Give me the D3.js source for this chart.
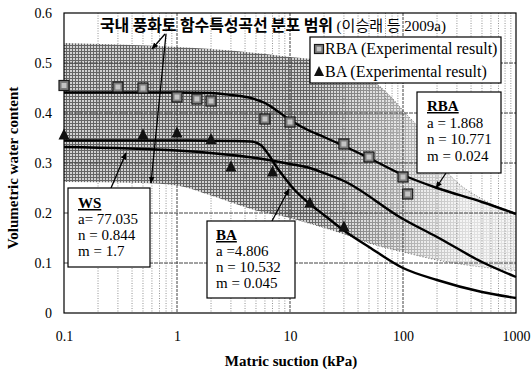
<!DOCTYPE html>
<html><head><meta charset="utf-8">
<script src="https://cdn.jsdelivr.net/npm/d3@7"></script>
<style>
html,body{margin:0;padding:0;background:#fff;}
svg{display:block;}
</style></head>
<body>
<svg id="chart" width="531" height="372"></svg>
<script>
// ---- data ----
const xTicks = [0.1, 1, 10, 100, 1000];
const xTickLabels = ["0.1", "1", "10", "100", "1000"];
const yTicks = [0, 0.1, 0.2, 0.3, 0.4, 0.5, 0.6];
const yTickLabels = ["0", "0.1", "0.2", "0.3", "0.4", "0.5", "0.6"];

const rbaPtsX = [0.1, 0.3, 0.5, 1, 1.5, 2, 6, 10, 30, 50, 100, 110];
const rbaPtsY = [0.455, 0.452, 0.45, 0.432, 0.428, 0.424, 0.388, 0.382, 0.338, 0.312, 0.272, 0.238];
const baPtsX = [0.1, 0.5, 1, 2, 3, 7, 15, 30];
const baPtsY = [0.356, 0.356, 0.36, 0.347, 0.292, 0.282, 0.22, 0.172];

const rbaCurveX = [0.1, 1, 2, 3, 4.5, 6, 7.5, 10, 15, 20, 30, 50, 100, 200, 500, 1000];
const rbaCurveY = [0.441, 0.441, 0.44, 0.436, 0.43, 0.42, 0.406, 0.386, 0.364, 0.352, 0.334, 0.31, 0.276, 0.25, 0.222, 0.198];
const baCurveX = [0.1, 1, 3, 4.5, 5.5, 6.5, 7.5, 9, 11, 15, 20, 30, 50, 100, 200, 500, 1000];
const baCurveY = [0.345, 0.345, 0.344, 0.343, 0.336, 0.316, 0.294, 0.27, 0.246, 0.218, 0.196, 0.165, 0.132, 0.09, 0.066, 0.042, 0.03];
const wsCurveX = [0.1, 1, 2.2, 5, 10, 15, 20, 30, 100, 200, 500, 1000];
const wsCurveY = [0.332, 0.325, 0.319, 0.31, 0.298, 0.29, 0.28, 0.264, 0.188, 0.152, 0.102, 0.072];

const bandUpX = [0.1, 0.3, 1, 3, 10, 20, 30, 50, 80, 100, 150, 200, 250, 300, 500, 1000];
const bandUpY = [0.54, 0.537, 0.532, 0.525, 0.512, 0.505, 0.497, 0.47, 0.43, 0.405, 0.36, 0.315, 0.28, 0.262, 0.228, 0.2];
const bandLoX = [0.1, 0.5, 1, 2, 5, 10, 30, 50, 100, 200, 500, 1000];
const bandLoY = [0.262, 0.26, 0.255, 0.235, 0.205, 0.19, 0.158, 0.14, 0.122, 0.106, 0.092, 0.085];

const titleBold = "국내 풍화토 함수특성곡선 분포 범위";
const titleRef = " (이승래 등 2009a)";
const legendLabels = ["RBA (Experimental result)", "BA (Experimental result)"];
const boxRBA = ["RBA", "a = 1.868", "n = 10.771", "m = 0.024"];
const boxBA = ["BA", "a =4.806", "n = 10.532", "m = 0.045"];
const boxWS = ["WS", "a= 77.035", "n = 0.844", "m = 1.7"];
const xTitle = "Matric suction (kPa)";
const yTitle = "Volumetric water content";

// ---- layout ----
const SERIF = "Liberation Serif, 'Times New Roman', serif";
const L = 64, R = 516, T = 13, B = 313;
const svg = d3.select("#chart");
const x = d3.scaleLog().domain([0.1, 1000]).range([L, R]);
const y = d3.scaleLinear().domain([0, 0.6]).range([B, T]);

const defs = svg.append("defs");
const pat = defs.append("pattern").attr("id", "mesh").attr("width", 3).attr("height", 3)
  .attr("patternUnits", "userSpaceOnUse");
pat.append("rect").attr("width", 3).attr("height", 3).attr("fill", "#d2d2d2");
pat.append("rect").attr("width", 3).attr("height", 1).attr("fill", "#646464");
pat.append("rect").attr("width", 1).attr("height", 3).attr("fill", "#646464");
const grad = defs.append("linearGradient").attr("id", "fade").attr("gradientUnits", "userSpaceOnUse")
  .attr("x1", 310).attr("x2", 470).attr("y1", 0).attr("y2", 0);
grad.append("stop").attr("offset", 0).attr("stop-color", "#fff").attr("stop-opacity", 1);
grad.append("stop").attr("offset", 1).attr("stop-color", "#fff").attr("stop-opacity", 0.2);
const mask = defs.append("mask").attr("id", "bandMask");
mask.append("rect").attr("x", 0).attr("y", 0).attr("width", 531).attr("height", 372).attr("fill", "url(#fade)");
const mk = defs.append("marker").attr("id", "arr").attr("viewBox", "0 0 10 10")
  .attr("refX", 9).attr("refY", 5).attr("markerWidth", 7).attr("markerHeight", 7)
  .attr("orient", "auto").attr("markerUnits", "userSpaceOnUse");
mk.append("path").attr("d", "M0,1 L10,5 L0,9 Z").attr("fill", "#000");

// band
const upPts = bandUpX.map((v, i) => [x(v), y(bandUpY[i])]);
const loPts = bandLoX.map((v, i) => [x(v), y(bandLoY[i])]);
const lineGen = d3.line().curve(d3.curveMonotoneX);
const bandPath = lineGen(upPts) + "L" + lineGen(loPts.slice().reverse()).slice(1) + "Z";
svg.append("path").attr("d", bandPath).attr("fill", "url(#mesh)").attr("mask", "url(#bandMask)");
svg.append("path").attr("d", lineGen(upPts.filter(p => p[0] > 320))).attr("fill", "none")
  .attr("stroke", "#555").attr("stroke-width", 0.8).attr("stroke-dasharray", "1,2");
svg.append("path").attr("d", lineGen(loPts.filter(p => p[0] > 280))).attr("fill", "none")
  .attr("stroke", "#555").attr("stroke-width", 0.8).attr("stroke-dasharray", "1,2");

// grid
const vMinor = [];
[0.1, 1, 10, 100].forEach(d => { for (let k = 2; k <= 9; k++) vMinor.push(k * d); });
svg.append("g").selectAll("line").data(vMinor).join("line")
  .attr("x1", d => x(d)).attr("x2", d => x(d)).attr("y1", T).attr("y2", B)
  .attr("stroke", "#777").attr("stroke-width", 0.8).attr("stroke-dasharray", "1,1.5");
svg.append("g").selectAll("line").data(xTicks.slice(1, 4)).join("line")
  .attr("x1", d => x(d)).attr("x2", d => x(d)).attr("y1", T).attr("y2", B)
  .attr("stroke", "#444").attr("stroke-width", 1).attr("stroke-dasharray", "3,1");
svg.append("g").selectAll("line").data(yTicks.slice(1, 6)).join("line")
  .attr("x1", L).attr("x2", R).attr("y1", d => y(d)).attr("y2", d => y(d))
  .attr("stroke", "#444").attr("stroke-width", 1).attr("stroke-dasharray", "4,1");

// frame and axes
svg.append("rect").attr("x", L).attr("y", T).attr("width", R - L).attr("height", B - T)
  .attr("fill", "none").attr("stroke", "#000").attr("stroke-width", 1.2);
const xAxis = d3.axisBottom(x).tickValues(xTicks).tickFormat((d, i) => xTickLabels[i]).tickSize(0).tickPadding(18);
svg.append("g").attr("transform", `translate(0,${B})`).call(xAxis)
  .attr("font-family", SERIF).attr("font-size", 14)
  .call(g => g.select(".domain").remove())
  .selectAll("text").attr("fill", "#000");
const yAxis = d3.axisLeft(y).tickValues(yTicks).tickFormat((d, i) => yTickLabels[i]).tickSize(0).tickPadding(12);
svg.append("g").attr("transform", `translate(${L},0)`).call(yAxis)
  .attr("font-family", SERIF).attr("font-size", 14)
  .call(g => g.select(".domain").remove())
  .selectAll("text").attr("fill", "#000");

svg.append("text").attr("x", 291).attr("y", 366).attr("text-anchor", "middle")
  .attr("font-family", SERIF).attr("font-weight", "bold").attr("font-size", 15).text(xTitle);
svg.append("text").attr("transform", "translate(18,168) rotate(-90)").attr("text-anchor", "middle")
  .attr("font-family", SERIF).attr("font-weight", "bold").attr("font-size", 15).text(yTitle);

// curves
const curveGen = d3.line().x(d => x(d[0])).y(d => y(d[1])).curve(d3.curveMonotoneX);
[[rbaCurveX, rbaCurveY], [baCurveX, baCurveY], [wsCurveX, wsCurveY]].forEach(([cx, cy]) => {
  svg.append("path").datum(cx.map((v, i) => [v, cy[i]])).attr("d", curveGen)
    .attr("fill", "none").attr("stroke", "#000").attr("stroke-width", 2.4);
});

// markers
function square(g, cx, cy, s) {
  g.append("rect").attr("x", cx - s / 2).attr("y", cy - s / 2).attr("width", s).attr("height", s)
    .attr("fill", "#7c7c7c").attr("stroke", "#1a1a1a").attr("stroke-width", 1.2);
  g.append("rect").attr("x", cx - s / 4).attr("y", cy - s / 4).attr("width", s / 2).attr("height", s / 2)
    .attr("fill", "#c4c4c4");
}
function tri(g, cx, cy, s) {
  g.append("path").attr("d", `M${cx},${cy - s * 0.6}L${cx + s / 2},${cy + s * 0.4}L${cx - s / 2},${cy + s * 0.4}Z`)
    .attr("fill", "#111");
}
const mg = svg.append("g");
rbaPtsX.forEach((v, i) => square(mg, x(v), y(rbaPtsY[i]), 10));
baPtsX.forEach((v, i) => tri(mg, x(v), y(baPtsY[i]), 11));

// arrows
function arrow(x1, y1, x2, y2) {
  svg.append("line").attr("x1", x1).attr("y1", y1).attr("x2", x2).attr("y2", y2)
    .attr("stroke", "#000").attr("stroke-width", 1.3).attr("marker-end", "url(#arr)");
}
arrow(165, 34, 152, 49);
arrow(166, 34, 151, 183);
arrow(111, 188, 126, 153);
arrow(272, 221, 289, 189);
arrow(446, 173, 436, 188);

// title
const tt = svg.append("text").attr("x", 100).attr("y", 31);
tt.append("tspan").attr("font-family", "Noto Sans CJK KR").attr("font-weight", "bold")
  .attr("font-size", 16).attr("textLength", 233).attr("lengthAdjust", "spacing").text(titleBold);
tt.append("tspan").attr("font-family", "Liberation Serif, Noto Sans CJK KR")
  .attr("font-size", 15).text(titleRef);

// legend
const lg = svg.append("g");
lg.append("rect").attr("x", 310).attr("y", 37).attr("width", 191).attr("height", 46)
  .attr("fill", "#fff").attr("stroke", "#000").attr("stroke-width", 1.2);
square(lg, 319, 49, 9);
tri(lg, 319, 72, 10);
legendLabels.forEach((t, i) => lg.append("text").attr("x", 325).attr("y", 54 + i * 23)
  .attr("font-family", SERIF).attr("font-size", 16).text(t));

// parameter boxes
function pbox(x0, y0, w, h, lines, tx, ty0, dy) {
  const g = svg.append("g");
  g.append("rect").attr("x", x0).attr("y", y0).attr("width", w).attr("height", h)
    .attr("fill", "#fff").attr("stroke", "#000").attr("stroke-width", 1.2);
  lines.forEach((t, i) => {
    const te = g.append("text").attr("x", tx).attr("y", ty0 + i * dy)
      .attr("font-family", SERIF).attr("font-size", 15).text(t);
    if (i === 0) te.attr("font-weight", "bold").attr("text-decoration", "underline");
  });
}
pbox(417, 92, 84, 81, boxRBA, 427, 111, 16.5);
pbox(68, 188, 82, 79, boxWS, 78, 208, 16);
pbox(207, 221, 88, 77, boxBA, 216, 240, 16);
</script>
</body></html>
